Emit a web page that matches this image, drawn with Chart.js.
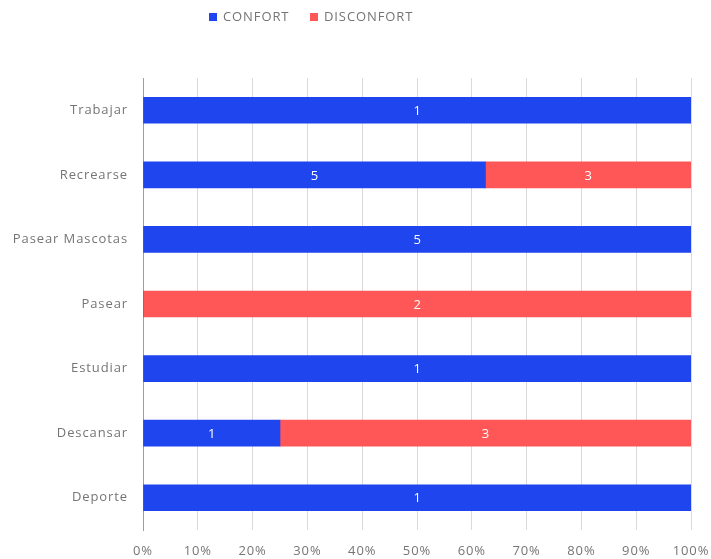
<!DOCTYPE html>
<html>
<head>
<meta charset="utf-8">
<script src="https://cdn.jsdelivr.net/npm/chart.js@4.4.1/dist/chart.umd.min.js"></script>
<style>
  html, body { margin: 0; padding: 0; background: #fff; }
  #wrap { width: 711px; height: 559px; }
</style>
</head>
<body>
<div id="wrap"><canvas id="c" width="711" height="559"></canvas></div>
<script>
// Activities and response counts per comfort category
const categories = ['Trabajar', 'Recrearse', 'Pasear Mascotas', 'Pasear', 'Estudiar', 'Descansar', 'Deporte'];
const confortCounts = [1, 5, 5, 0, 1, 1, 1];
const disconfortCounts = [0, 3, 0, 2, 0, 3, 0];
const seriesNames = ['CONFORT', 'DISCONFORT'];
const seriesColors = ['#1f45ee', '#ff5757'];
const percentTicks = [0, 10, 20, 30, 40, 50, 60, 70, 80, 90, 100];

const FONT = "'Open Sans', 'Noto Sans', sans-serif";
const TEXT_GRAY = '#757575';

// Share of each row as a percentage for the 100% stacked layout
function toPercent(counts) {
  return counts.map((v, i) => {
    const total = confortCounts[i] + disconfortCounts[i];
    return total ? (v / total) * 100 : 0;
  });
}

const countSeries = [confortCounts, disconfortCounts];

// Slightly tracked-out lettering for every text on the canvas
const tracking = {
  id: 'tracking',
  beforeDraw(chart) { chart.ctx.letterSpacing = '0.9px'; }
};

// Writes each segment's count in the middle of its bar
const segmentLabels = {
  id: 'segmentLabels',
  afterDatasetsDraw(chart) {
    const ctx = chart.ctx;
    ctx.save();
    ctx.font = '13px ' + FONT;
    ctx.fillStyle = '#ffffff';
    ctx.textAlign = 'center';
    ctx.textBaseline = 'middle';
    chart.data.datasets.forEach((ds, di) => {
      const meta = chart.getDatasetMeta(di);
      meta.data.forEach((bar, i) => {
        const n = countSeries[di][i];
        if (!n) return;
        const x = (bar.x + bar.base) / 2;
        ctx.fillText(String(n), x + 0.5, bar.y + 1);
      });
    });
    ctx.restore();
  }
};

// Compact legend drawn above the plot
const topLegend = {
  id: 'topLegend',
  afterDraw(chart) {
    const ctx = chart.ctx;
    ctx.save();
    ctx.font = '13px ' + FONT;
    ctx.textBaseline = 'middle';
    ctx.textAlign = 'left';
    const starts = [209, 310];
    const y = 17;
    seriesNames.forEach((name, i) => {
      const x = starts[i];
      ctx.fillStyle = seriesColors[i];
      ctx.fillRect(x, y - 4, 8, 8);
      ctx.fillStyle = TEXT_GRAY;
      ctx.fillText(name, x + 14, y);
    });
    ctx.restore();
  }
};

new Chart(document.getElementById('c'), {
  type: 'bar',
  data: {
    labels: categories,
    datasets: [
      { label: seriesNames[0], data: toPercent(confortCounts), backgroundColor: seriesColors[0], barThickness: 26 },
      { label: seriesNames[1], data: toPercent(disconfortCounts), backgroundColor: seriesColors[1], barThickness: 26 }
    ]
  },
  options: {
    indexAxis: 'y',
    responsive: false,
    animation: false,
    layout: { padding: { top: 78, right: 20, left: 0, bottom: 0 } },
    plugins: {
      legend: { display: false },
      tooltip: { enabled: false }
    },
    scales: {
      x: {
        stacked: true,
        min: 0,
        max: 100,
        afterBuildTicks(axis) { axis.ticks = percentTicks.map(v => ({ value: v })); },
        afterFit(axis) { axis.height = 29; axis.paddingRight = 0; },
        grid: { color: '#d9d9d9', drawTicks: false },
        border: { display: false },
        ticks: {
          padding: 13,
          color: TEXT_GRAY,
          font: { family: FONT, size: 13 },
          callback: v => v + '%'
        }
      },
      y: {
        stacked: true,
        afterFit(axis) { axis.width = 143; },
        grid: { display: false, drawTicks: false },
        border: { display: true, color: '#9e9e9e', width: 1 },
        ticks: {
          padding: 15,
          color: TEXT_GRAY,
          font: { family: FONT, size: 13 }
        }
      }
    }
  },
  plugins: [tracking, segmentLabels, topLegend]
});
</script>
</body>
</html>
